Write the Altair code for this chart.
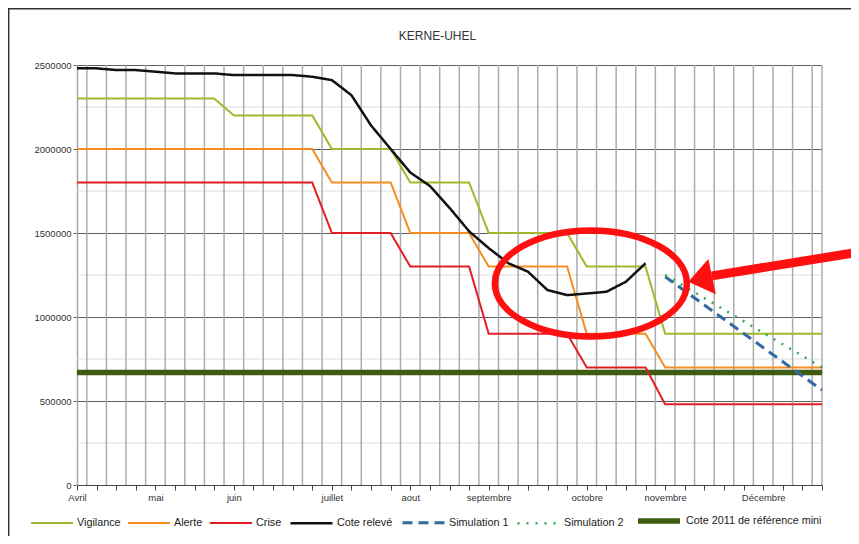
import altair as alt
import pandas as pd

# ---------------- data ----------------
week_idx = list(range(39))  # weekly categories from early April to end of December
month_idx = [0, 4, 8, 13, 17, 21, 26, 30, 35]
month_names = ["Avril", "mai", "juin", "juillet", "aout", "septembre", "octobre", "novembre", "Décembre"]

series_names = ["Vigilance", "Alerte", "Crise", "Cote relevé", "Simulation 1", "Simulation 2",
                "Cote 2011 de référence mini"]
series_colors = ["#a0b92a", "#f68d21", "#e31d24", "#111111", "#3469a2", "#35a853", "#3e5c12"]
series_dash = [[1, 0], [1, 0], [1, 0], [1, 0], [10, 6], [2, 7], [1, 0]]
series_width = [2, 2, 2, 2.5, 3, 2.5, 5.5]

vigilance = [2300000, 2300000, 2300000, 2300000, 2300000, 2300000, 2300000, 2300000,
             2200000, 2200000, 2200000, 2200000, 2200000,
             2000000, 2000000, 2000000, 2000000,
             1800000, 1800000, 1800000, 1800000,
             1500000, 1500000, 1500000, 1500000, 1500000,
             1300000, 1300000, 1300000, 1300000,
             900000, 900000, 900000, 900000, 900000, 900000, 900000, 900000, 900000]
alerte = [2000000, 2000000, 2000000, 2000000, 2000000, 2000000, 2000000, 2000000, 2000000,
          2000000, 2000000, 2000000, 2000000,
          1800000, 1800000, 1800000, 1800000,
          1500000, 1500000, 1500000, 1500000,
          1300000, 1300000, 1300000, 1300000, 1300000,
          900000, 900000, 900000, 900000,
          700000, 700000, 700000, 700000, 700000, 700000, 700000, 700000, 700000]
crise = [1800000, 1800000, 1800000, 1800000, 1800000, 1800000, 1800000, 1800000, 1800000,
         1800000, 1800000, 1800000, 1800000,
         1500000, 1500000, 1500000, 1500000,
         1300000, 1300000, 1300000, 1300000,
         900000, 900000, 900000, 900000, 900000,
         700000, 700000, 700000, 700000,
         480000, 480000, 480000, 480000, 480000, 480000, 480000, 480000, 480000]
cote_releve = [2480000, 2480000, 2470000, 2470000, 2460000, 2450000, 2450000, 2450000,
               2440000, 2440000, 2440000, 2440000, 2430000, 2410000, 2320000, 2140000,
               2000000, 1860000, 1780000, 1650000, 1510000, 1410000, 1320000, 1270000,
               1160000, 1130000, 1140000, 1150000, 1210000, 1320000]
sim1_idx = [30, 38]
sim1 = [1240000, 565000]
sim2_idx = [30, 38]
sim2 = [1250000, 700000]
ref_idx = [0, 38]
ref_2011 = [670000, 670000]

y_major = [0, 500000, 1000000, 1500000, 2000000, 2500000]
y_minor = [250000, 750000, 1250000, 1750000, 2250000]
v_grid = [i + 0.5 for i in range(38)] + [38]

# annotation (ellipse around Sept/Oct recovery, arrow pointing at it)
ell_center = (26.21, 1200000)
arrow_shaft = (32.38, 1245000, 39.9, 1387000)
arrow_head = (32.08, 1232000)

# ---------------- build tables ----------------
rows = []
for n, idxs, vals in [
    ("Cote 2011 de référence mini", ref_idx, ref_2011),
    ("Vigilance", week_idx, vigilance),
    ("Alerte", week_idx, alerte),
    ("Crise", week_idx, crise),
    ("Cote relevé", week_idx[:len(cote_releve)], cote_releve),
    ("Simulation 1", sim1_idx, sim1),
    ("Simulation 2", sim2_idx, sim2),
]:
    for i, v in zip(idxs, vals):
        rows.append({"series": n, "idx": i, "value": v})
df = pd.DataFrame(rows)

label_expr = "".join(f"datum.value == {i} ? '{m}' : " for i, m in zip(month_idx, month_names)) + "''"

x_scale = alt.Scale(domain=[0, 38], nice=False, zero=False)
y_scale = alt.Scale(domain=[0, 2500000], nice=False, zero=True)

x_axis = alt.Axis(values=week_idx, labelExpr=label_expr, grid=False, title=None,
                  tickSize=5, tickColor="#444", domainColor="#444", tickWidth=1,
                  labelFontSize=9.5, labelColor="#333", labelPadding=2,
                  labelOverlap=False, labelFlush=False, labelBound=False)
y_axis = alt.Axis(values=y_major, format="d", grid=True, gridColor="#5e5e5e",
                  gridWidth=1, title=None, tickSize=4, tickColor="#666",
                  domainColor="#a8a8a8", domainWidth=1.5, labelOverlap=False,
                  labelFontSize=9.5, labelColor="#333", labelPadding=2)


def X(field="idx:Q"):
    return alt.X(field, scale=x_scale, axis=x_axis)


def Y(field="value:Q"):
    return alt.Y(field, scale=y_scale, axis=y_axis)


legend = alt.Legend(title=None, orient="none", legendX=-47, legendY=432, direction="horizontal",
                    symbolType="stroke", symbolSize=1764, labelFontSize=10.8, labelOffset=3,
                    columnPadding=3, labelColor="#222", labelFont="Liberation Sans",
                    labelLimit=300)

minor = alt.Chart(pd.DataFrame({"value": y_minor})).mark_rule(
    color="#dddddd", strokeWidth=1).encode(y=Y())
vgrid = alt.Chart(pd.DataFrame({"idx": v_grid})).mark_rule(
    color="#acacac", strokeWidth=1.5).encode(x=X())

base = alt.Chart(df).mark_line(strokeCap="butt").encode(
    x=X(),
    y=Y(),
    color=alt.Color("series:N", scale=alt.Scale(domain=series_names, range=series_colors),
                    legend=legend),
    strokeDash=alt.StrokeDash("series:N", scale=alt.Scale(domain=series_names, range=series_dash),
                              legend=legend),
    strokeWidth=alt.StrokeWidth("series:N",
                                scale=alt.Scale(type="ordinal", domain=series_names,
                                                range=series_width),
                                legend=legend),
)
lines = [base.transform_filter(alt.datum.series == n) for n in
         ["Cote 2011 de référence mini", "Vigilance", "Alerte", "Crise", "Cote relevé",
          "Simulation 1", "Simulation 2"]]

b = 0.552
k = 0.5523
ellipse_path = (f"M -1 0 C -1 {-k*b} {-k} {-b} 0 {-b} C {k} {-b} 1 {-k*b} 1 0 "
                f"C 1 {k*b} {k} {b} 0 {b} C {-k} {b} -1 {k*b} -1 0 Z")
ellipse = alt.Chart(pd.DataFrame({"idx": [ell_center[0]], "value": [ell_center[1]]})).mark_point(
    shape=ellipse_path, size=192 * 192, filled=False, stroke="#ff1010", strokeWidth=6.5,
    opacity=1).encode(x=X(), y=Y())

shaft = alt.Chart(pd.DataFrame({"idx": [arrow_shaft[0]], "value": [arrow_shaft[1]],
                                "idx2": [arrow_shaft[2]], "value2": [arrow_shaft[3]]})).mark_rule(
    color="#ff1010", strokeWidth=9, strokeCap="butt").encode(
    x=X(), x2="idx2:Q", y=Y(), y2="value2:Q")

head = alt.Chart(pd.DataFrame({"idx": [arrow_head[0]], "value": [arrow_head[1]]})).mark_point(
    shape="M -1 0 L 0.35 -1 L 0.35 1 Z", size=36 * 36, filled=True, fill="#ff1010",
    strokeWidth=0, opacity=1, angle=348).encode(x=X(), y=Y())

frame_left = alt.Chart(pd.DataFrame({"k": [0]})).mark_rule(color="#333", strokeWidth=1.5).encode(
    x=alt.value(-68.3), y=alt.value(-57), y2=alt.value(480))
frame_top = alt.Chart(pd.DataFrame({"k": [0]})).mark_rule(color="#333", strokeWidth=1.5).encode(
    y=alt.value(-56.3), x=alt.value(-69), x2=alt.value(790))

chart = alt.layer(minor, vgrid, *lines, ellipse, shaft, head, frame_left, frame_top).properties(
    width=745, height=420,
    title=alt.TitleParams("KERNE-UHEL", fontSize=12, font="Liberation Sans", fontWeight="normal",
                          color="#333", offset=0, dy=36, dx=-12, anchor="middle", frame="group"),
    padding={"left": 69, "top": 57, "right": 29, "bottom": 51},
    autosize=alt.AutoSizeParams(type="none"),
).configure(font="Liberation Sans").configure_view(stroke=None)

chart.save("out.html", embed_options={"renderer": "svg", "actions": False})
